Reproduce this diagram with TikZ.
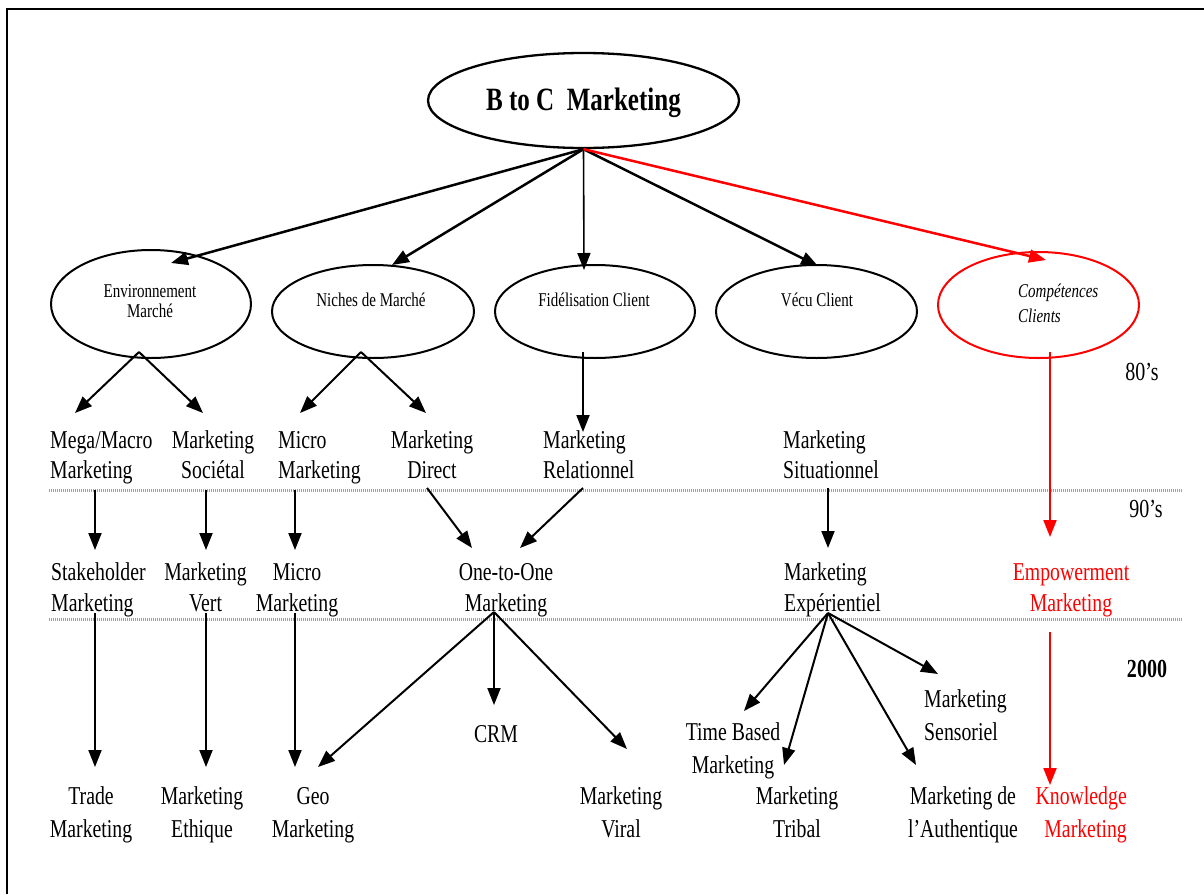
\documentclass[tikz,border=0pt]{standalone}
\usepackage{fontspec}
\setmainfont{Liberation Serif}[FakeStretch=0.77]
\usetikzlibrary{arrows.meta,shapes.geometric}
\definecolor{rulegray}{RGB}{160,160,160}
\definecolor{hotred}{RGB}{255,0,0}
\begin{document}
\begin{tikzpicture}[x=1pt,y=-1pt,
  oval/.style={ellipse, draw, line width=2pt, inner sep=0pt},
  otext/.style={inner sep=0pt, align=center, anchor=base, font=\fontsize{19.5}{20.5}\selectfont},
  lbl/.style={inner sep=0pt, align=center, anchor=base, font=\fontsize{25.7}{#1}\selectfont},
  lbl/.default=31,
  arr/.style={line width=2pt, -{Triangle[length=17pt,width=13pt]}},
  bigarr/.style={arr, line width=2.5pt},
  era/.style={inner sep=0pt, anchor=base, font=\fontsize{26}{28}\selectfont},
  period/.style={draw=rulegray, line width=3pt, dash pattern=on 1pt off 1pt},
]
\useasboundingbox (0,0) rectangle (1204,894);
\fill[white] (0,0) rectangle (1204,894);

% page frame (left and top edges)
\draw[line width=2.2pt] (7,894) -- (7,9) -- (1204,9);

% period separators
\draw[period] (49,490) -- (1183,490);
\draw[period] (49,619) -- (1183,619);

% era labels
\node[era] (y80) at (1142,380) {80’s};
\node[era] (y90) at (1146,517) {90’s};
\node[era, font=\fontsize{26}{28}\selectfont\bfseries] (y00) at (1147,677) {2000};

% root
\node[oval, line width=2.3pt, minimum width=311pt, minimum height=95pt] (top) at (583.5,100.5) {};
\node[inner sep=0pt, anchor=base, font=\fontsize{32.5}{34}\selectfont\bfseries] (toptxt) at (583.5,110) {B to C\ \ Marketing};

% families (two-line texts are placed by the baseline of their last line)
\node[oval, minimum width=200pt, minimum height=108pt] (env) at (151,304) {};
\node[otext] (envtxt) at (150,317.5) {Environnement\\Marché};
\node[oval, minimum width=202pt, minimum height=93pt] (niche) at (373,311.5) {};
\node[otext] (nichetxt) at (371,306) {Niches de Marché};
\node[oval, minimum width=200pt, minimum height=93pt] (fid) at (595,311.5) {};
\node[otext] (fidtxt) at (594,306) {Fidélisation Client};
\node[oval, minimum width=201pt, minimum height=93pt] (vecu) at (816.5,311.5) {};
\node[otext] (vecutxt) at (817,306) {Vécu Client};
\node[oval, draw=hotred, minimum width=201pt, minimum height=106pt] (comp) at (1038.5,305) {};
\node[otext, anchor=base west, align=left, font=\fontsize{19.5}{25}\selectfont\itshape] (comptxt) at (1018,322) {Compétences\\Clients};

% 80's
\node[lbl=30, anchor=base west, align=left] (mega) at (50,478) {Mega/Macro\\Marketing};
\node[lbl=30] (soc) at (213,478) {Marketing\\Sociétal};
\node[lbl=30, anchor=base west, align=left] (microA) at (278,478) {Micro\\Marketing};
\node[lbl=30] (direct) at (432,478) {Marketing\\Direct};
\node[lbl=30, anchor=base west, align=left] (relat) at (543,478) {Marketing\\Relationnel};
\node[lbl=30, anchor=base west, align=left] (situ) at (783,478) {Marketing\\Situationnel};

% 90's
\node[lbl, anchor=base west, align=left] (stake) at (51,611) {Stakeholder\\Marketing};
\node[lbl] (vert) at (205.5,611) {Marketing\\Vert};
\node[lbl] (microB) at (297,611) {Micro\\Marketing};
\node[lbl] (one) at (506,611) {One-to-One\\Marketing};
\node[lbl, anchor=base west, align=left] (exper) at (784,611) {Marketing\\Expérientiel};
\node[lbl, text=hotred] (empow) at (1071,611) {Empowerment\\Marketing};

% 2000
\node[lbl] (crm) at (496,742) {CRM};
\node[lbl=33] (timeb) at (733,773) {Time Based\\Marketing};
\node[lbl=33, anchor=base west, align=left] (senso) at (924,740) {Marketing\\Sensoriel};
\node[lbl=33] (trade) at (91,837) {Trade\\Marketing};
\node[lbl=33] (ethique) at (202,837) {Marketing\\Ethique};
\node[lbl=33] (geo) at (313,837) {Geo\\Marketing};
\node[lbl=33] (viral) at (621,837) {Marketing\\Viral};
\node[lbl=33] (tribal) at (797,837) {Marketing\\Tribal};
\node[lbl=33] (authent) at (963,837) {Marketing de\\l’Authentique};
\node[lbl=33, anchor=base east, align=right, text=hotred] (know) at (1127,837) {Knowledge\\Marketing};

% connector end points
\coordinate (envIn) at (171,263);
\coordinate (nicheIn) at (392,265);
\coordinate (fidIn) at (584,270);
\coordinate (vecuIn) at (818,266);
\coordinate (compIn) at (1046,260);
\coordinate (envOut) at (139,352);
\coordinate (nicheOut) at (361,352);
\coordinate (fidOut) at (583,352);
\coordinate (compOut) at (1050,352);
\coordinate (megaIn) at (75,413);
\coordinate (socIn) at (203,413);
\coordinate (microAIn) at (300,413);
\coordinate (directIn) at (426,413);
\coordinate (relatIn) at (583,432);
\coordinate (megaOut) at (95,490);
\coordinate (socOut) at (206,490);
\coordinate (microAOut) at (295,490);
\coordinate (directOut) at (427,488);
\coordinate (relatOut) at (583,488);
\coordinate (situOut) at (828,488);
\coordinate (stakeIn) at (95,550);
\coordinate (vertIn) at (206,550);
\coordinate (microBIn) at (295,550);
\coordinate (oneInL) at (472,548);
\coordinate (oneInR) at (520,548);
\coordinate (experIn) at (828,548);
\coordinate (empowIn) at (1050,537);
\coordinate (stakeOut) at (95,613);
\coordinate (vertOut) at (206,613);
\coordinate (microBOut) at (295,613);
\coordinate (oneOut) at (494,612);
\coordinate (experOut) at (828,613);
\coordinate (empowOut) at (1050,632);
\coordinate (tradeIn) at (95,767);
\coordinate (ethiqueIn) at (206,767);
\coordinate (geoInV) at (295,767);
\coordinate (geoInD) at (318,767);
\coordinate (crmIn) at (494,705);
\coordinate (viralIn) at (627,749);
\coordinate (timebIn) at (744,711);
\coordinate (tribalIn) at (784,765);
\coordinate (authentIn) at (916,765);
\coordinate (sensoIn) at (938,674);
\coordinate (knowIn) at (1050,785);

% root to families
\draw[bigarr] (top.south) -- (envIn);
\draw[bigarr] (top.south) -- (nicheIn);
\draw[arr, line width=1.6pt] (top.south) -- (fidIn);
\draw[bigarr] (top.south) -- (vecuIn);
\draw[bigarr, draw=hotred, fill=hotred] (top.south) -- (compIn);

% families to the 80's
\draw[arr] (envOut) -- (megaIn);
\draw[arr] (envOut) -- (socIn);
\draw[arr] (nicheOut) -- (microAIn);
\draw[arr] (nicheOut) -- (directIn);
\draw[arr] (fidOut) -- (relatIn);
\draw[arr, draw=hotred, fill=hotred] (compOut) -- (empowIn);

% 80's to 90's
\draw[arr] (megaOut) -- (stakeIn);
\draw[arr] (socOut) -- (vertIn);
\draw[arr] (microAOut) -- (microBIn);
\draw[arr] (directOut) -- (oneInL);
\draw[arr] (relatOut) -- (oneInR);
\draw[arr] (situOut) -- (experIn);

% 90's to 2000
\draw[arr] (stakeOut) -- (tradeIn);
\draw[arr] (vertOut) -- (ethiqueIn);
\draw[arr] (microBOut) -- (geoInV);
\draw[arr] (oneOut) -- (geoInD);
\draw[arr] (oneOut) -- (crmIn);
\draw[arr] (oneOut) -- (viralIn);
\draw[arr] (experOut) -- (timebIn);
\draw[arr] (experOut) -- (tribalIn);
\draw[arr] (experOut) -- (authentIn);
\draw[arr] (experOut) -- (sensoIn);
\draw[arr, draw=hotred, fill=hotred] (empowOut) -- (knowIn);
\end{tikzpicture}
\end{document}
